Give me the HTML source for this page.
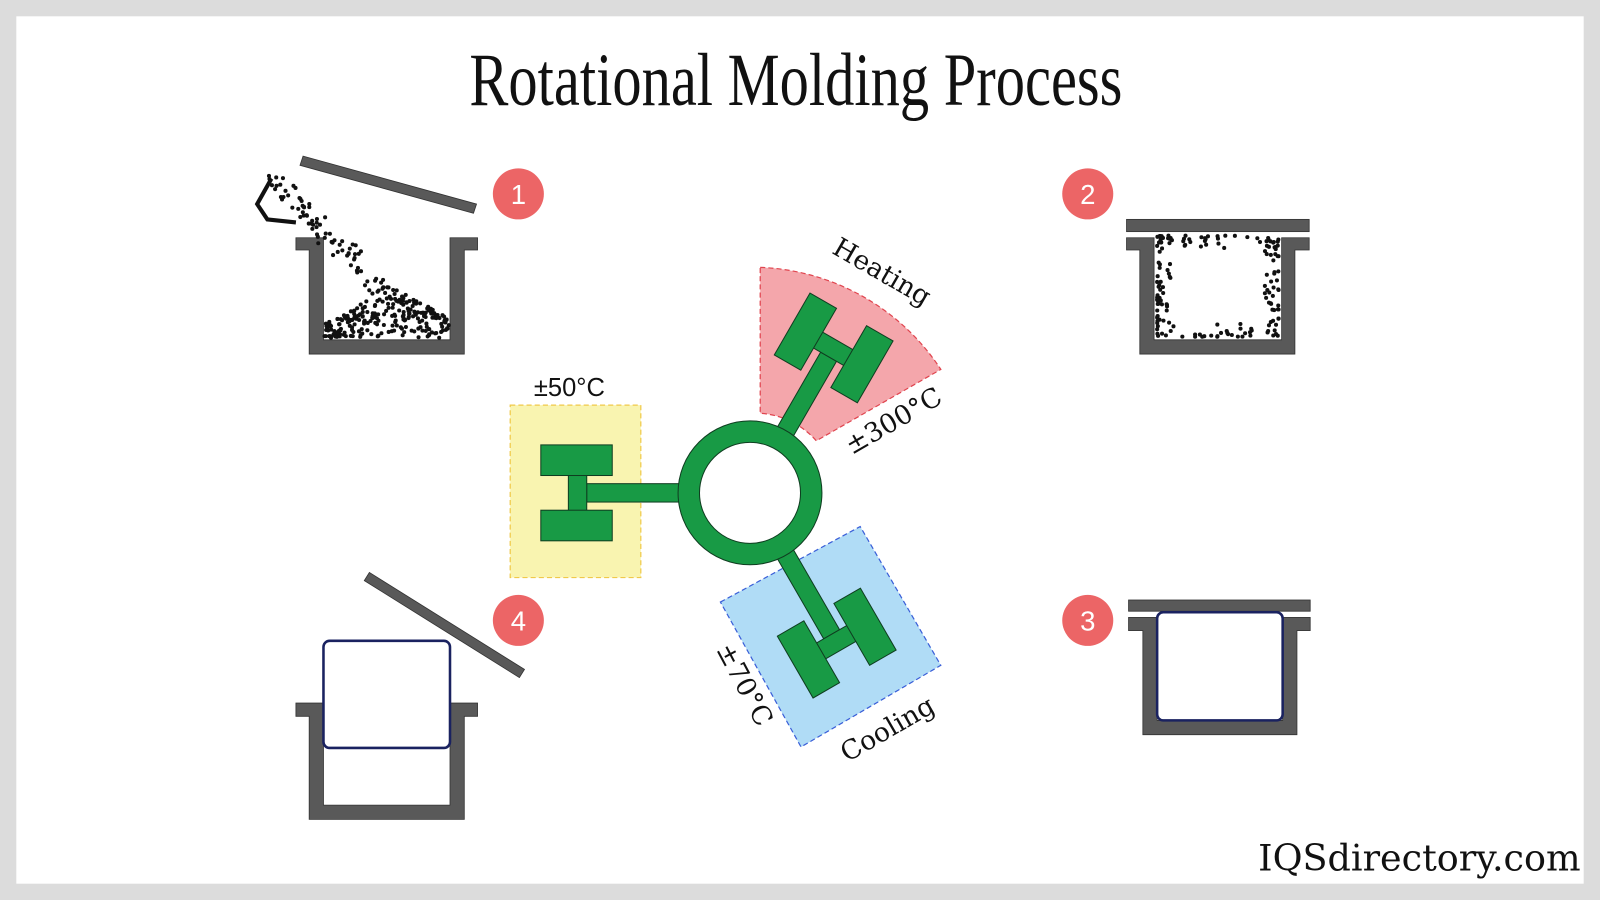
<!DOCTYPE html>
<html><head><meta charset="utf-8"><style>
html,body{margin:0;padding:0;background:#dcdcdc;}
svg{display:block;}
</style></head><body>
<svg id="s" width="1600" height="900" viewBox="0 0 1568 882" xmlns="http://www.w3.org/2000/svg">
<rect x="0" y="0" width="1568" height="882" fill="#dcdcdc"/>
<rect x="16" y="16" width="1536" height="850" fill="#fff"/>
<text x="460" y="103" font-family="Liberation Serif, serif" font-size="74" textLength="640" lengthAdjust="spacingAndGlyphs" fill="#111">Rotational Molding Process</text>
<text x="1549" y="853" text-anchor="end" font-family="DejaVu Serif, serif" font-size="36" textLength="316" lengthAdjust="spacingAndGlyphs" fill="#111">IQSdirectory.com</text>

<!-- zones -->
<rect x="500" y="397" width="128" height="169" fill="#f9f4b0" stroke="#f0c94a" stroke-width="1.2" stroke-dasharray="5,3"/>
<path d="M745,262 A222,222 0 0 1 922,362 L800,432 A80,80 0 0 0 745,405 Z" fill="#f4a6ab" stroke="#e0454f" stroke-width="1.2" stroke-dasharray="5,3"/>
<polygon points="706,590 843,516 922,652 785,732" fill="#b0dcf6" stroke="#3a5fd8" stroke-width="1.2" stroke-dasharray="5,3"/>

<!-- molds -->
<g id="h" fill="#189a45" stroke="#0f3d20" stroke-width="1">
 <rect x="575" y="474" width="95" height="18"/>
 <rect x="557" y="464" width="18" height="38"/>
 <rect x="530" y="436" width="70" height="30"/>
 <rect x="530" y="500" width="70" height="30"/>
</g>
<use href="#h" transform="rotate(120 735 483) translate(6 0)"/>
<use href="#h" transform="rotate(240 735 483)"/>
<circle cx="735" cy="483" r="60" fill="none" stroke="#0f3d20" stroke-width="22"/>
<circle cx="735" cy="483" r="60" fill="none" stroke="#189a45" stroke-width="20"/>

<g font-family="DejaVu Serif, serif" font-size="26" fill="#111">
<text x="558" y="388" text-anchor="middle" font-family="Liberation Sans, sans-serif" font-size="25">±50°C</text>
<text transform="translate(860,274) rotate(30)" text-anchor="middle">Heating</text>
<text transform="translate(880,420) rotate(-30)" text-anchor="middle">±300°C</text>
<text transform="translate(722,675) rotate(62)" text-anchor="middle">±70°C</text>
<text transform="translate(874,722) rotate(-30)" text-anchor="middle">Cooling</text>
</g>

<!-- badges -->
<g font-family="Liberation Sans, sans-serif" font-size="27" fill="#fff" text-anchor="middle">
<circle cx="508" cy="190" r="25" fill="#ec6566"/><text x="508" y="200">1</text>
<circle cx="1066" cy="190" r="25" fill="#ec6566"/><text x="1066" y="200">2</text>
<circle cx="1066" cy="608" r="25" fill="#ec6566"/><text x="1066" y="618">3</text>
<circle cx="508" cy="608" r="25" fill="#ec6566"/><text x="508" y="618">4</text>
</g>

<!-- containers -->
<g fill="#595959" stroke="#333" stroke-width="0.8">
<path d="M290,233 H317 V333 H441 V233 H468 V245 H455 V347 H303 V245 H290 Z"/>
<polygon points="297,153 467,200 464,209 294,162"/>
<path d="M290,689 H317 V789 H441 V689 H468 V702 H455 V803 H303 V702 H290 Z"/>
<polygon points="362,561 514,656 509,664 357,569"/>
<rect x="1104" y="215" width="179" height="12"/>
<path d="M1104,233 H1131 V333 H1256 V233 H1283 V245 H1269 V347 H1117 V245 H1104 Z"/>
<rect x="1106" y="588" width="178" height="11"/>
<path d="M1106,605 H1134 V706 H1257 V605 H1284 V618 H1271 V720 H1120 V618 H1106 Z"/>
</g>
<rect x="317" y="628" width="124" height="105" rx="6" fill="#fff" stroke="#1a2260" stroke-width="2.5"/>
<rect x="1134" y="600" width="123" height="106" rx="6" fill="#fff" stroke="#1a2260" stroke-width="2.5"/>
<polyline points="266,175 252,200 262,215 290,218" fill="none" stroke="#111" stroke-width="4"/>
<g id="dots" fill="#111"></g>
</svg>
<script>
(function(){
var g=document.getElementById('dots');var seed=7;
function r(){seed=(seed*16807)%2147483647;return seed/2147483647;}
function d(x,y){var c=document.createElementNS('http://www.w3.org/2000/svg','circle');c.setAttribute('cx',x.toFixed(1));c.setAttribute('cy',y.toFixed(1));c.setAttribute('r','2');g.appendChild(c);}
var i,t,x,y;
for(i=0;i<85;i++){t=r();x=268+t*112+(r()-0.5)*22;y=178+t*110+(r()-0.5)*16;d(x,y);}
for(i=0;i<240;i++){x=318+r()*122;var cx=385,h=50-Math.abs(x-cx)*0.55;if(h<6)h=6;y=331-r()*h;d(x,y);}
for(i=0;i<170;i++){var s=r()*4,u=r(),dp=Math.pow(r(),2)*14;
 if(s<1){x=1133+u*121;y=231+dp;}else if(s<2){x=1133+u*121;y=330-dp;}else if(s<3){x=1134+dp;y=231+u*99;}else{x=1253-dp;y=231+u*99;}
 d(x,y);}
})();
</script>
</body></html>
